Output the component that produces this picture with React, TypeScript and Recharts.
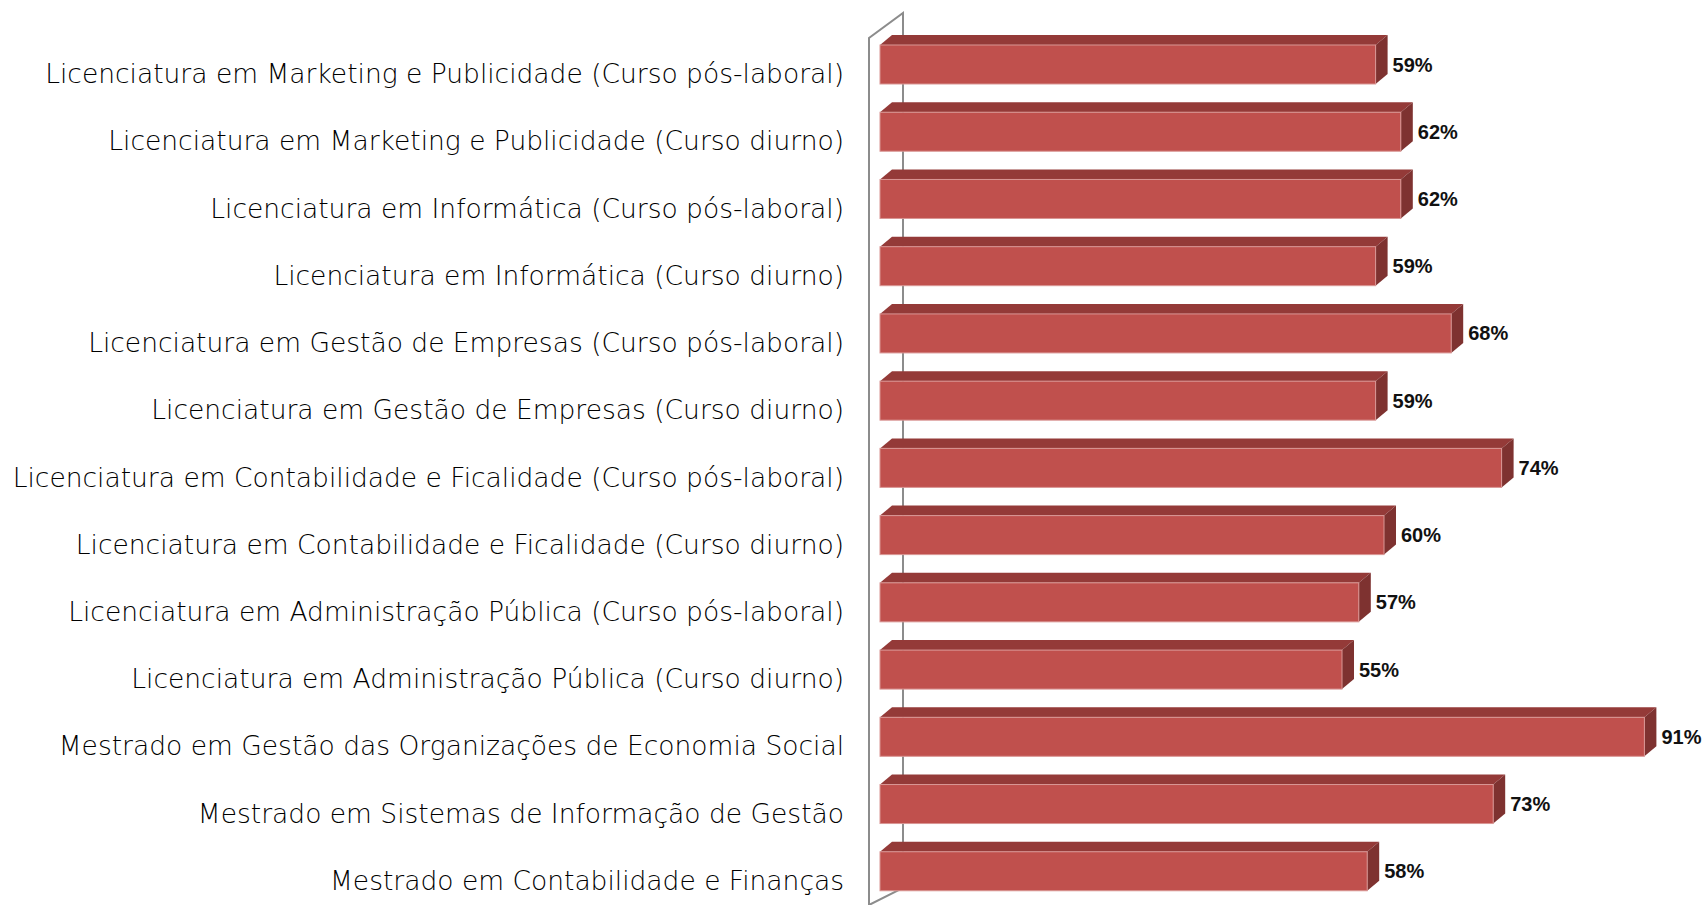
import React from 'react';
import { Bar, BarChart, CartesianGrid, LabelList, XAxis, YAxis } from 'recharts';

const categories = [
  'Licenciatura em Marketing e Publicidade (Curso pós-laboral)',
  'Licenciatura em Marketing e Publicidade (Curso diurno)',
  'Licenciatura em Informática (Curso pós-laboral)',
  'Licenciatura em Informática (Curso diurno)',
  'Licenciatura em Gestão de Empresas (Curso pós-laboral)',
  'Licenciatura em Gestão de Empresas (Curso diurno)',
  'Licenciatura em Contabilidade e Ficalidade (Curso pós-laboral)',
  'Licenciatura em Contabilidade e Ficalidade (Curso diurno)',
  'Licenciatura em Administração Pública (Curso pós-laboral)',
  'Licenciatura em Administração Pública (Curso diurno)',
  'Mestrado em Gestão das Organizações de Economia Social',
  'Mestrado em Sistemas de Informação de Gestão',
  'Mestrado em Contabilidade e Finanças',
];

const values = [59, 62, 62, 59, 68, 59, 74, 60, 57, 55, 91, 73, 58];

const data = categories.map((name, i) => ({ name, value: values[i] }));

// 3d depth of the bars
const DX = 12;
const DY = 10;

const Bar3D = (props: any) => {
  const { x, y, width, height } = props;
  if (!width || width <= 0) return null;
  return (
    <g>
      <polygon
        points={`${x},${y} ${x + DX},${y - DY} ${x + width + DX},${y - DY} ${x + width},${y}`}
        fill="#943a38"
      />
      <polygon
        points={`${x + width},${y} ${x + width + DX},${y - DY} ${x + width + DX},${y + height - DY} ${x + width},${y + height}`}
        fill="#7e3230"
      />
      <rect x={x} y={y} width={width} height={height} fill="#c0504d" stroke="#d99694" strokeWidth={1} />
    </g>
  );
};

const ValueLabel = (props: any) => {
  const { x, y, width, height, value } = props;
  return (
    <text
      x={x + width + DX + 5}
      y={y + height / 2}
      dominantBaseline="central"
      fontFamily="Liberation Sans, Arial, sans-serif"
      fontWeight="bold"
      fontSize={20}
      fill="#111"
    >
      {value}%
    </text>
  );
};

const CategoryTick = (props: any) => {
  const { x, y, payload } = props;
  return (
    <text
      x={x}
      y={y + 9}
      textAnchor="end"
      dominantBaseline="central"
      fontFamily="DejaVu Sans, sans-serif"
      fontWeight={200}
      fontSize={26.5}
      fill="#000"
    >
      {payload.value}
    </text>
  );
};

// back wall of the 3d chart, drawn as the grid so it sits behind the bars
const Wall = (props: any) => {
  const { x1, y1, y2 } = props;
  const bx = x1 + 34;
  return (
    <g key="wall" fill="none" stroke="#8c8c8c" strokeWidth={2}>
      <path d={`M${x1},${y2} L${x1},${y1 + 7} L${bx},${y1 - 18} L${bx},${y2 - 17} L${x1},${y2}`} />
    </g>
  );
};

const App: React.FC = () => {
  return (
    <div style={{ position: 'absolute', left: 0, top: 0, width: 1706, height: 905, background: '#fff' }}>
      <BarChart
        width={1706}
        height={905}
        data={data}
        layout="vertical"
        barSize={39}
        margin={{ top: 31, right: -14, left: 0, bottom: 0 }}
      >
        <CartesianGrid
          horizontal={false}
          vertical={Wall}
          verticalCoordinatesGenerator={({ offset }: any) => [offset.left - 11]}
        />
        <XAxis type="number" domain={[0, 100]} hide />
        <YAxis
          type="category"
          dataKey="name"
          width={880}
          axisLine={false}
          tickLine={false}
          tickSize={0}
          tickMargin={36}
          interval={0}
          tick={CategoryTick}
        />
        <Bar dataKey="value" shape={Bar3D} isAnimationActive={false}>
          <LabelList dataKey="value" content={ValueLabel} />
        </Bar>
      </BarChart>
    </div>
  );
};

export default App;
